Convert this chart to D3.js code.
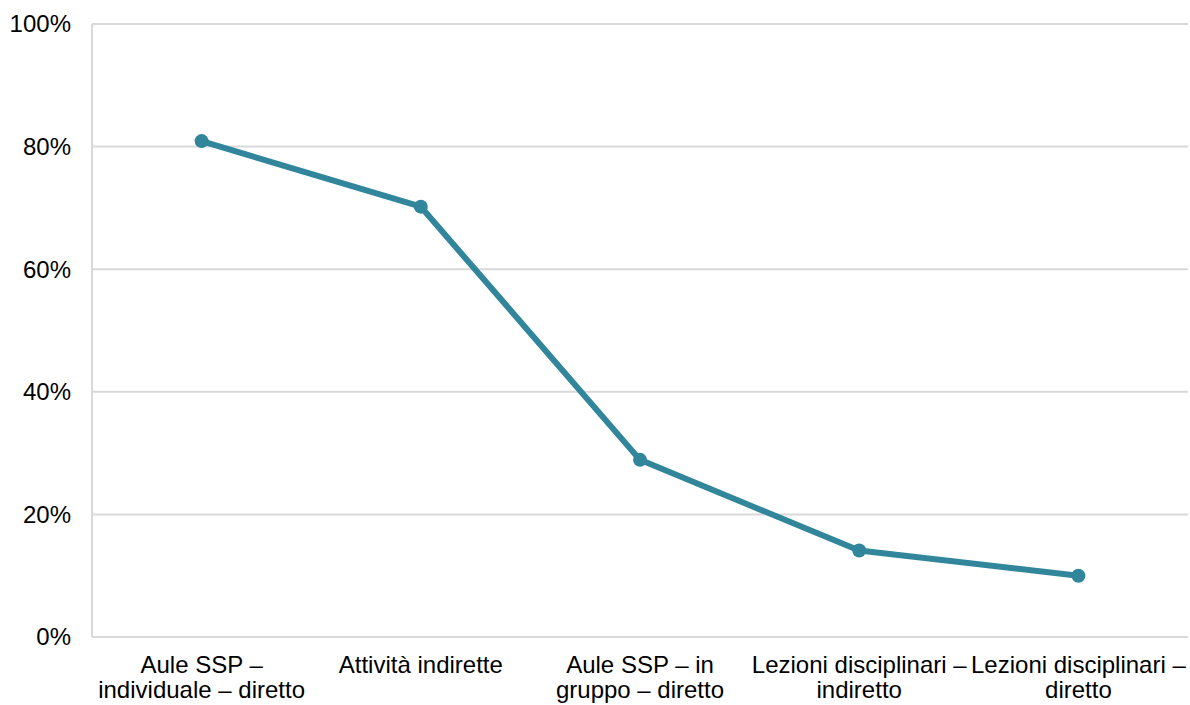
<!DOCTYPE html>
<html>
<head>
<meta charset="utf-8">
<script src="https://cdn.jsdelivr.net/npm/d3@7"></script>
<style>
  body { margin: 0; background: #fff; }
  text { font-family: "Liberation Sans", Arial, sans-serif; fill: #000; }
</style>
</head>
<body>
<svg id="chart"></svg>
<script>
let w = 1190;
let h = 705;
const margin = {top: 24, right: 2, bottom: 68, left: 92};

// data
const categories = [
  'Aule SSP – individuale – diretto',
  'Attività indirette',
  'Aule SSP – in gruppo – diretto',
  'Lezioni disciplinari – indiretto',
  'Lezioni disciplinari – diretto'
];
// how the category labels wrap in the original
const categoryLines = [
  ['Aule SSP –', 'individuale – diretto'],
  ['Attività indirette'],
  ['Aule SSP – in', 'gruppo – diretto'],
  ['Lezioni disciplinari –', 'indiretto'],
  ['Lezioni disciplinari –', 'diretto']
];
const values = [0.809, 0.702, 0.289, 0.141, 0.100];
const yTicks = [0, 0.2, 0.4, 0.6, 0.8, 1.0];

const lineColor = '#31869b';
const gridColor = '#d9d9d9';

let svg = d3.select('#chart')
    .attr('width', w)
    .attr('height', h);

let x = d3.scaleBand()
    .domain(categories)
    .range([margin.left, w - margin.right]);

let y = d3.scaleLinear()
    .domain([0, 1])
    .range([h - margin.bottom, margin.top]);

//horizontal gridlines
svg.append('g')
    .selectAll('line')
    .data(yTicks)
    .enter()
    .append('line')
        .attr('x1', margin.left)
        .attr('x2', w - margin.right)
        .attr('y1', d => y(d))
        .attr('y2', d => y(d))
        .attr('stroke', gridColor)
        .attr('stroke-width', 2);

//left axis line
svg.append('line')
    .attr('x1', margin.left)
    .attr('x2', margin.left)
    .attr('y1', y(1))
    .attr('y2', y(0))
    .attr('stroke', gridColor)
    .attr('stroke-width', 2);

//y tick labels
svg.append('g')
    .selectAll('text')
    .data(yTicks)
    .enter()
    .append('text')
        .attr('x', margin.left - 21)
        .attr('y', d => y(d))
        .attr('dy', '0.35em')
        .attr('text-anchor', 'end')
        .style('font-size', '24px')
        .text(d => d3.format('.0%')(d));

//x category labels
let labels = svg.append('g')
    .selectAll('text')
    .data(categories)
    .enter()
    .append('text')
        .attr('text-anchor', 'middle')
        .style('font-size', '24px')
        .attr('transform', d => `translate(${x(d) + x.bandwidth() / 2},${y(0) + 36})`);

labels.selectAll('tspan')
    .data((d, i) => categoryLines[i])
    .enter()
    .append('tspan')
        .attr('x', 0)
        .attr('dy', (d, i) => i === 0 ? 0 : 25)
        .text(d => d);

//line
let line = d3.line()
    .x((d, i) => x(categories[i]) + x.bandwidth() / 2)
    .y(d => y(d));

svg.append('path')
    .datum(values)
    .attr('d', line)
    .attr('fill', 'none')
    .attr('stroke', lineColor)
    .attr('stroke-width', 6)
    .attr('stroke-linejoin', 'round');

//markers
svg.append('g')
    .selectAll('circle')
    .data(values)
    .enter()
    .append('circle')
        .attr('cx', (d, i) => x(categories[i]) + x.bandwidth() / 2)
        .attr('cy', d => y(d))
        .attr('r', 7)
        .attr('fill', lineColor);
</script>
</body>
</html>
